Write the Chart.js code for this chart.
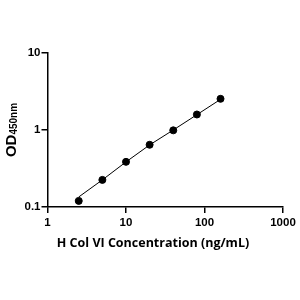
<!DOCTYPE html>
<html>
<head>
<meta charset="utf-8">
<script src="https://cdn.jsdelivr.net/npm/chart.js@4/dist/chart.umd.min.js"></script>
<style>
  html, body { margin: 0; padding: 0; background: #fff; }
  #wrap { width: 300px; height: 300px; }
</style>
</head>
<body>
<div id="wrap"><canvas id="chartOD"></canvas></div>
<script>
// standard points
const conc = [2.5, 5, 10, 20, 40, 80, 160];
const od = [0.12, 0.225, 0.386, 0.643, 0.99, 1.59, 2.54];
// fitted curve
const fitConc = [2.5, 5, 10, 20, 40, 80, 160];
const fitOd = [0.135, 0.225, 0.385, 0.64, 1.0, 1.58, 2.5];
const xTicks = [1, 10, 100, 1000];
const yTicks = [0.1, 1, 10];

const titles = {
    id: 'titles',
    afterDraw(chart) {
        const ctx = chart.ctx;
        ctx.save();
        ctx.fillStyle = '#000';
        // x title
        ctx.font = 'bold 12.5px "Open Sans"';
        ctx.textAlign = 'center';
        ctx.textBaseline = 'middle';
        ctx.fillText('H Col VI Concentration (ng/mL)', 153, 243);
        // y title with subscript
        ctx.translate(11, 130);
        ctx.rotate(-Math.PI / 2);
        ctx.textBaseline = 'alphabetic';
        ctx.textAlign = 'left';
        ctx.font = 'bold 15px "Liberation Sans"';
        const w1 = ctx.measureText('OD').width;
        ctx.font = 'bold 10px "Liberation Sans"';
        const w2 = ctx.measureText('450nm').width;
        const x0 = -(w1 + w2) / 2;
        ctx.font = 'bold 15px "Liberation Sans"';
        ctx.fillText('OD', x0, 5);
        ctx.font = 'bold 10px "Liberation Sans"';
        ctx.fillText('450nm', x0 + w1, 6);
        ctx.restore();
    }
};

new Chart(document.getElementById('chartOD'), {
    type: 'scatter',
    data: {
        datasets: [
            {
                label: 'fit',
                data: fitConc.map((c, i) => ({ x: c, y: fitOd[i] })),
                showLine: true,
                borderColor: '#000',
                borderWidth: 1,
                pointRadius: 0
            },
            {
                label: 'standards',
                data: conc.map((c, i) => ({ x: c, y: od[i] })),
                backgroundColor: '#000',
                borderColor: '#000',
                pointRadius: 3.5
            }
        ]
    },
    options: {
        responsive: true,
        maintainAspectRatio: false,
        animation: false,
        layout: { padding: { left: 0, top: 53, right: 17, bottom: 0 } },
        plugins: { legend: { display: false }, tooltip: { enabled: false } },
        scales: {
            x: {
                type: 'logarithmic',
                min: 1,
                max: 1000,
                afterBuildTicks: (s) => { s.ticks = xTicks.map(v => ({ value: v })); },
                afterFit: (s) => { s.height = 93; },
                ticks: {
                    color: '#000',
                    font: { family: 'Liberation Sans', weight: 'bold', size: 11.5 },
                    padding: 3,
                    maxRotation: 0,
                    callback: (v) => String(v)
                },
                grid: { drawOnChartArea: false, drawTicks: true, tickLength: 6, color: '#000', lineWidth: 1.5 },
                border: { color: '#000', width: 1.5 }
            },
            y: {
                type: 'logarithmic',
                min: 0.1,
                max: 10,
                afterBuildTicks: (s) => { s.ticks = yTicks.map(v => ({ value: v })); },
                afterFit: (s) => { s.width = 47.5; },
                ticks: {
                    color: '#000',
                    font: { family: 'Liberation Sans', weight: 'bold', size: 11.5 },
                    padding: 1,
                    callback: (v) => String(v)
                },
                grid: { drawOnChartArea: false, drawTicks: true, tickLength: 6, color: '#000', lineWidth: 1.5 },
                border: { color: '#000', width: 1.5 }
            }
        }
    },
    plugins: [titles]
});
</script>
</body>
</html>
